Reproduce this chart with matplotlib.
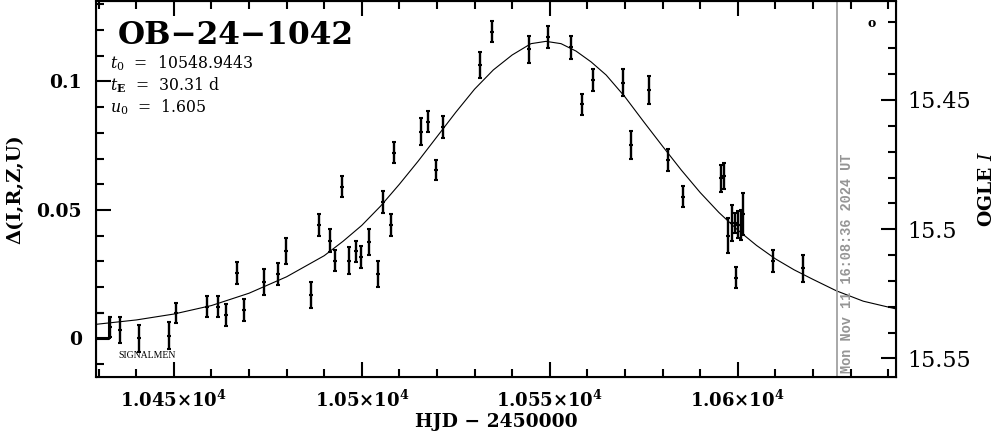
import numpy as np
import matplotlib
matplotlib.use('Agg')
import matplotlib.pyplot as plt
from matplotlib.ticker import MultipleLocator, FuncFormatter

plt.rcParams['font.family'] = 'DejaVu Serif'
plt.rcParams['mathtext.fontset'] = 'dejavuserif'

# Event parameters shown in the label block.
event_name = 'OB\u221224\u22121042'
t0_text = '10548.9443'
tE_text = '30.31 d'
u0_text = '1.605'

# Photometry: HJD - 2450000, delta flux, error.
hjd = [10432.9, 10435.8, 10440.7, 10448.8, 10450.6, 10458.9, 10461.8, 10463.9,
       10466.8, 10468.8, 10473.9, 10477.8, 10479.9, 10486.5, 10488.7, 10491.6,
       10492.8, 10494.8, 10496.7, 10498.5, 10499.8, 10501.8, 10504.4, 10505.7,
       10507.7, 10508.7, 10515.7, 10517.7, 10519.7, 10521.7, 10531.5, 10534.7,
       10544.6, 10549.5, 10555.6, 10558.7, 10561.5, 10569.4, 10571.5, 10576.4,
       10581.4, 10585.5, 10595.5, 10596.4, 10597.5, 10598.4, 10599.3, 10599.6,
       10600.2, 10600.8, 10601.3, 10609.5, 10617.4]
delta = [0.0046, 0.0033, 0.0001, 0.0011, 0.0100, 0.0124, 0.0124, 0.0091,
         0.0254, 0.0111, 0.0221, 0.0251, 0.0340, 0.0169, 0.0442, 0.0381,
         0.0303, 0.0591, 0.0303, 0.0340, 0.0318, 0.0374, 0.0251, 0.0532,
         0.0442, 0.0723, 0.0805, 0.0844, 0.0656, 0.0822, 0.1064, 0.1194,
         0.1125, 0.1174, 0.1133, 0.0912, 0.1006, 0.0995, 0.0753, 0.0967,
         0.0695, 0.0552, 0.0623, 0.0632, 0.0400, 0.0449, 0.0449, 0.0237,
         0.0442, 0.0442, 0.0484, 0.0302, 0.0273]
err = [0.0039, 0.0052, 0.0052, 0.0052, 0.0039, 0.0042, 0.0042, 0.0042,
       0.0042, 0.0042, 0.0051, 0.0042, 0.0051, 0.0051, 0.0042, 0.0043,
       0.0042, 0.0042, 0.0052, 0.0041, 0.0043, 0.0051, 0.0052, 0.0042,
       0.0043, 0.0041, 0.0052, 0.0042, 0.0040, 0.0042, 0.0052, 0.0042,
       0.0053, 0.0042, 0.0044, 0.0041, 0.0044, 0.0052, 0.0053, 0.0053,
       0.0044, 0.0042, 0.0053, 0.0052, 0.0068, 0.0071, 0.0039, 0.0042,
       0.0052, 0.0058, 0.0082, 0.0044, 0.0053]

# Model curve.
model_t = [10429.3, 10440, 10450, 10460, 10470, 10480, 10490, 10495,
           10500, 10505, 10510, 10515, 10520, 10525, 10530, 10535,
           10540, 10545, 10549, 10553, 10557, 10561, 10565, 10570,
           10575, 10580, 10585, 10590, 10595, 10600, 10605, 10610,
           10615, 10620, 10626.3, 10633.4, 10642.1]
model_d = [0.0055, 0.0072, 0.0095, 0.0128, 0.0176, 0.0240, 0.0322, 0.0378,
           0.0440, 0.0515, 0.0600, 0.0690, 0.0785, 0.0880, 0.0970, 0.1045,
           0.1103, 0.1147, 0.1156, 0.1147, 0.1118, 0.1076, 0.1025, 0.0940,
           0.0843, 0.0748, 0.0655, 0.0568, 0.0490, 0.0422, 0.0362, 0.0310,
           0.0267, 0.0230, 0.0185, 0.0145, 0.0115]

# Small baseline bracket at the left edge.
box_t = [10429.3, 10431.2, None, 10429.3, 10432.8, 10432.8]
box_d = [0.0101, 0.0101, None, -0.0002, -0.0002, 0.0084]

now_t = 10626.3
stamp = 'Mon Nov 11 16:08:36 2024 UT'

fig = plt.figure(figsize=(9.99, 4.34), dpi=100)
ax = fig.add_axes([0.0961, 0.1313, 0.8008, 0.8664])

ax.errorbar(hjd, delta, yerr=err, fmt='_', color='black', ms=3, mew=1.5,
            elinewidth=1.7, capsize=1.5, capthick=1.5)
ax.plot(model_t, model_d, color='black', lw=0.8)
bt = [np.nan if v is None else v for v in box_t]
bd = [np.nan if v is None else v for v in box_d]
ax.plot(bt, bd, color='black', lw=1.5)

ax.axvline(now_t, color='#9a9a9a', lw=1.2)
ax.text(now_t + 1.0, -0.0136, stamp, rotation=90, color='#959595',
        fontsize=9.8, fontweight='bold', family='Liberation Mono',
        ha='left', va='bottom')

ax.set_xlim(10429.3, 10642.1)
ax.set_ylim(-0.0150, 0.1313)

ax.xaxis.set_major_locator(MultipleLocator(50))
ax.xaxis.set_minor_locator(MultipleLocator(10))
ax.yaxis.set_major_locator(MultipleLocator(0.05))
ax.yaxis.set_minor_locator(MultipleLocator(0.01))

def xfmt(v, pos):
    s = ('%g' % (v / 1e4))
    return r'$\mathbf{%s{\times}10^{4}}$' % s

def yfmt(v, pos):
    return ('%g' % round(v, 3)).replace('-0', '0')

ax.xaxis.set_major_formatter(FuncFormatter(xfmt))
ax.yaxis.set_major_formatter(FuncFormatter(yfmt))

ax.tick_params(which='both', direction='in', top=True, right=False, width=1.5)
ax.tick_params(which='major', length=11)
ax.tick_params(which='minor', length=5.5)
ax.tick_params(axis='x', labelsize=13, pad=9)
ax.tick_params(axis='y', labelsize=13.5, pad=10)
for lab in ax.get_yticklabels():
    lab.set_fontweight('bold')
for sp in ax.spines.values():
    sp.set_linewidth(1.5)

ax.set_xlabel('HJD \u2212 2450000', fontsize=13.5, fontweight='bold', labelpad=2)
ax.set_ylabel('\u0394(I,R,Z,U)', fontsize=14, fontweight='bold', labelpad=9)

ax2 = ax.twinx()
ax2.set_position(ax.get_position())
ax2.set_ylim(15.5572, 15.4117)
ax2.yaxis.set_major_locator(MultipleLocator(0.05))
ax2.yaxis.set_minor_locator(MultipleLocator(0.01))
ax2.yaxis.set_major_formatter(FuncFormatter(lambda v, p: '%g' % round(v, 3)))
ax2.tick_params(which='both', direction='in', width=1.5, labelsize=16, pad=8)
ax2.tick_params(which='major', length=11)
ax2.tick_params(which='minor', length=5.5)
ax2.set_ylabel(r'OGLE $I$', fontsize=13.5, fontweight='bold', labelpad=5)

ax.text(0.0275, 0.886, event_name, transform=ax.transAxes, fontsize=22.5,
        fontweight='bold', va='baseline', ha='left')
ax.text(0.0175, 0.822, r'$t_0$  =  ' + t0_text, transform=ax.transAxes,
        fontsize=11.3, va='baseline')
ax.text(0.0175, 0.763, r'$t_\mathbf{E}$  =  ' + tE_text, transform=ax.transAxes,
        fontsize=11.3, va='baseline')
ax.text(0.0175, 0.705, r'$u_0$  =  ' + u0_text, transform=ax.transAxes,
        fontsize=11.3, va='baseline')
ax.text(0.0275, 0.05, 'SIGNALMEN', transform=ax.transAxes, fontsize=7,
        family='Liberation Serif', va='baseline')
ax.text(0.97, 0.94, 'o', transform=ax.transAxes, fontsize=9,
        fontweight='bold', ha='center', va='center')

fig.savefig('out.png', dpi=100)
